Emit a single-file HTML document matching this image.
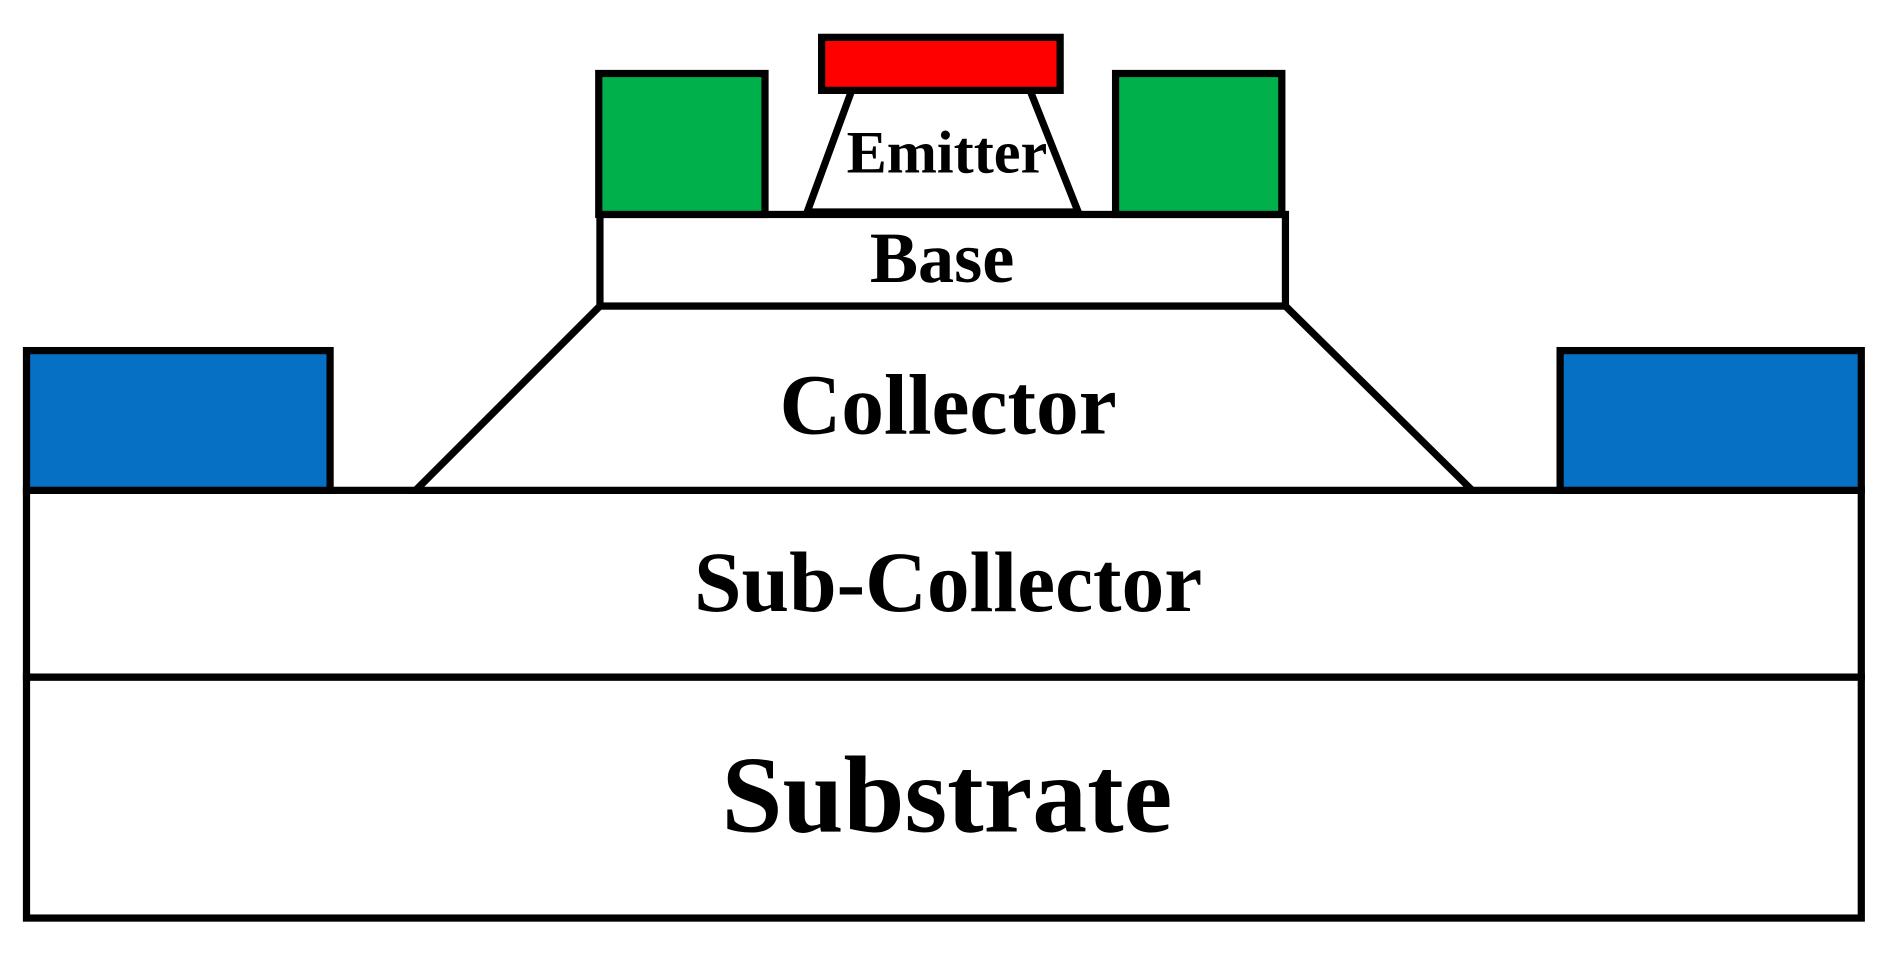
<!DOCTYPE html>
<html><head><style>html,body{margin:0;padding:0;background:#fff}svg{display:block}</style></head>
<body>
<svg width="1889" height="953" viewBox="0 0 1568 791" preserveAspectRatio="none" xmlns="http://www.w3.org/2000/svg">
<g stroke="#000" stroke-width="6" stroke-linejoin="miter">
<rect x="22" y="562" width="1523" height="200" fill="#fff"/>
<rect x="22" y="407" width="1523" height="155" fill="#fff"/>
<rect x="22" y="291" width="252" height="116" fill="#0570c4"/>
<rect x="1295" y="291" width="250" height="116" fill="#0570c4"/>
<polygon points="345,407 498,254 1067,254 1222,407" fill="#fff"/>
<rect x="498" y="178" width="569" height="76" fill="#fff"/>
<rect x="497" y="61" width="138" height="117" fill="#00b04a"/>
<rect x="926" y="61" width="138" height="117" fill="#00b04a"/>
<polygon points="707,75 855,75 895,176 670,176" fill="#fff"/>
<rect x="682" y="31" width="198" height="44" fill="#ff0000"/>
</g>
<g font-family="Liberation Serif, serif" font-weight="bold" text-anchor="middle" fill="#000">
<text x="786" y="143" font-size="50">Emitter</text>
<text x="782" y="234" font-size="60">Base</text>
<text x="787" y="360" font-size="71">Collector</text>
<text x="787" y="507" font-size="71">Sub-Collector</text>
<text x="786" y="690" font-size="91">Substrate</text>
</g>
</svg>
</body></html>
